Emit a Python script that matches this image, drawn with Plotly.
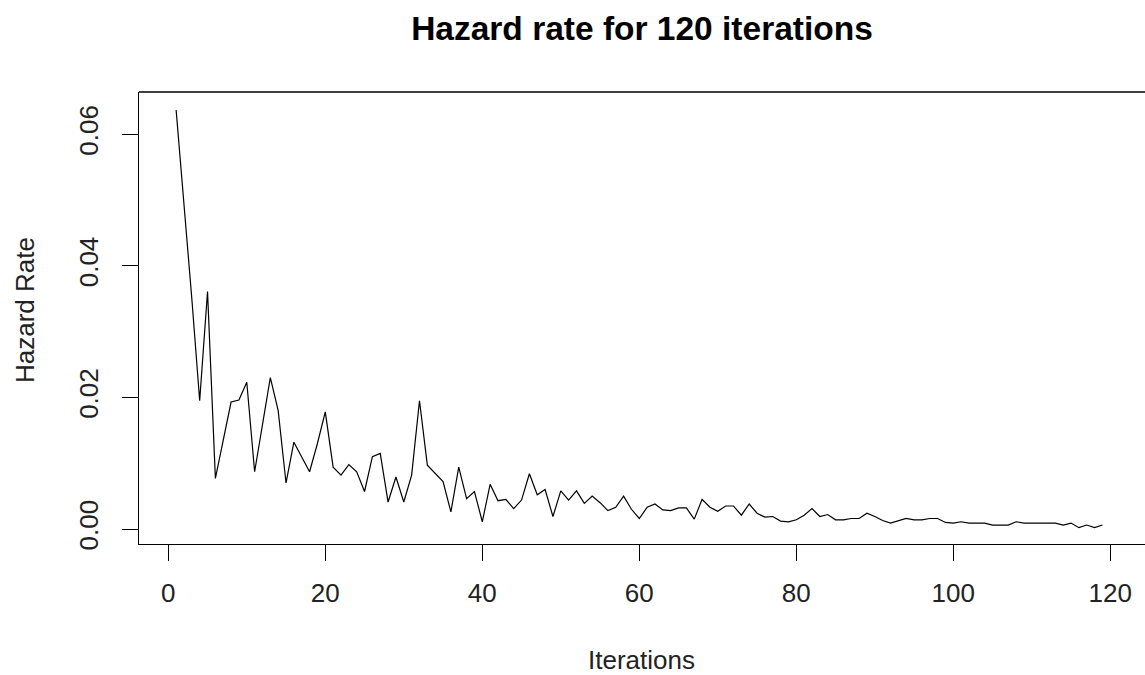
import plotly.graph_objects as go

iterations = list(range(1, 120))
hazard_rate = [
    0.0637, 0.0498, 0.0350, 0.0195, 0.0361, 0.0077, 0.0135, 0.0193, 0.0196, 0.0223,
    0.0087, 0.0158, 0.0230, 0.0180, 0.0070, 0.0132, 0.0110, 0.0087, 0.0130, 0.0178,
    0.0094, 0.0082, 0.0098, 0.0087, 0.0057, 0.0110, 0.0115, 0.0041, 0.0079, 0.0041,
    0.0082, 0.0195, 0.0097, 0.0085, 0.0072, 0.0026, 0.0094, 0.0046, 0.0057, 0.0011,
    0.0068, 0.0043, 0.0045, 0.0031, 0.0044, 0.0084, 0.0052, 0.0060, 0.0019, 0.0058,
    0.0044, 0.0058, 0.0039, 0.0050, 0.0040, 0.0028, 0.0033, 0.0050, 0.0030, 0.0016,
    0.0033, 0.0038, 0.0029, 0.0028, 0.0032, 0.0032, 0.0015, 0.0045, 0.0033, 0.0027,
    0.0035, 0.0035, 0.0021, 0.0038, 0.0024, 0.0018, 0.0019, 0.0012, 0.0011, 0.0014,
    0.0021, 0.0031, 0.0019, 0.0022, 0.0014, 0.0014, 0.0016, 0.0016, 0.0024, 0.0019,
    0.0013, 0.0009, 0.0013, 0.0016, 0.0014, 0.0014, 0.0016, 0.0016, 0.0010, 0.0009,
    0.0011, 0.0009, 0.0009, 0.0009, 0.0006, 0.0006, 0.0006, 0.0011, 0.0009, 0.0009,
    0.0009, 0.0009, 0.0009, 0.0006, 0.0009, 0.0002, 0.0006, 0.0002, 0.0006,
]
x_ticks = [0, 20, 40, 60, 80, 100, 120]
y_ticks = [0.00, 0.02, 0.04, 0.06]
y_tick_text = ["0.00", "0.02", "0.04", "0.06"]

FONT = "Liberation Sans, Arial, sans-serif"

fig = go.Figure()
fig.add_trace(go.Scatter(
    x=iterations, y=hazard_rate, mode="lines",
    line=dict(color="black", width=1.2),
    showlegend=False, hoverinfo="x+y",
))

fig.update_layout(
    width=1145, height=675,
    paper_bgcolor="white", plot_bgcolor="white",
    margin=dict(l=139, r=0, t=92, b=131, autoexpand=False),
    font=dict(family=FONT, color="black", size=26),
    title=dict(
        text="<b>Hazard rate for 120 iterations</b>",
        font=dict(family=FONT, size=33.5, color="black"),
        xref="paper", x=0.5, xanchor="center",
        yref="container", y=1 - 28 / 675, yanchor="middle",
    ),
    xaxis=dict(
        range=[-3.73, 124.42], tickmode="array", tickvals=x_ticks,
        ticks="outside", ticklen=16, tickwidth=1.3, tickcolor="black",
        showline=True, linecolor="black", linewidth=1.3, mirror=False,
        showgrid=False, zeroline=False, automargin=False,
        ticklabelstandoff=10,
        tickfont=dict(size=26, color="#222"),
    ),
    yaxis=dict(
        range=[-0.00228, 0.06643], tickmode="array", tickvals=y_ticks,
        ticktext=y_tick_text, tickangle=-90,
        ticks="outside", ticklen=16, tickwidth=1.3, tickcolor="black",
        showline=True, linecolor="black", linewidth=1.3, mirror=False,
        showgrid=False, zeroline=False, automargin=False,
        ticklabelstandoff=13,
        tickfont=dict(size=26, color="#222"),
    ),
    shapes=[dict(type="line", xref="paper", yref="paper", x0=0, x1=1, y0=1, y1=1,
                 line=dict(color="black", width=1.3))],
    annotations=[
        dict(text="Iterations", xref="paper", yref="paper", x=(641 - 139) / 1006,
             y=(544 - 660) / 452,
             xanchor="center", yanchor="middle", showarrow=False,
             font=dict(size=26, color="#222")),
        dict(text="Hazard Rate", xref="paper", yref="paper", x=(25 - 139) / 1006,
             y=(544 - 310) / 452, xanchor="center", yanchor="middle", textangle=-90,
             showarrow=False, font=dict(size=26, color="#222")),
    ],
)

fig.write_html("out.html",
               config={"displayModeBar": False},
               post_script="document.body.style.margin='0';document.body.style.overflow='hidden';")
